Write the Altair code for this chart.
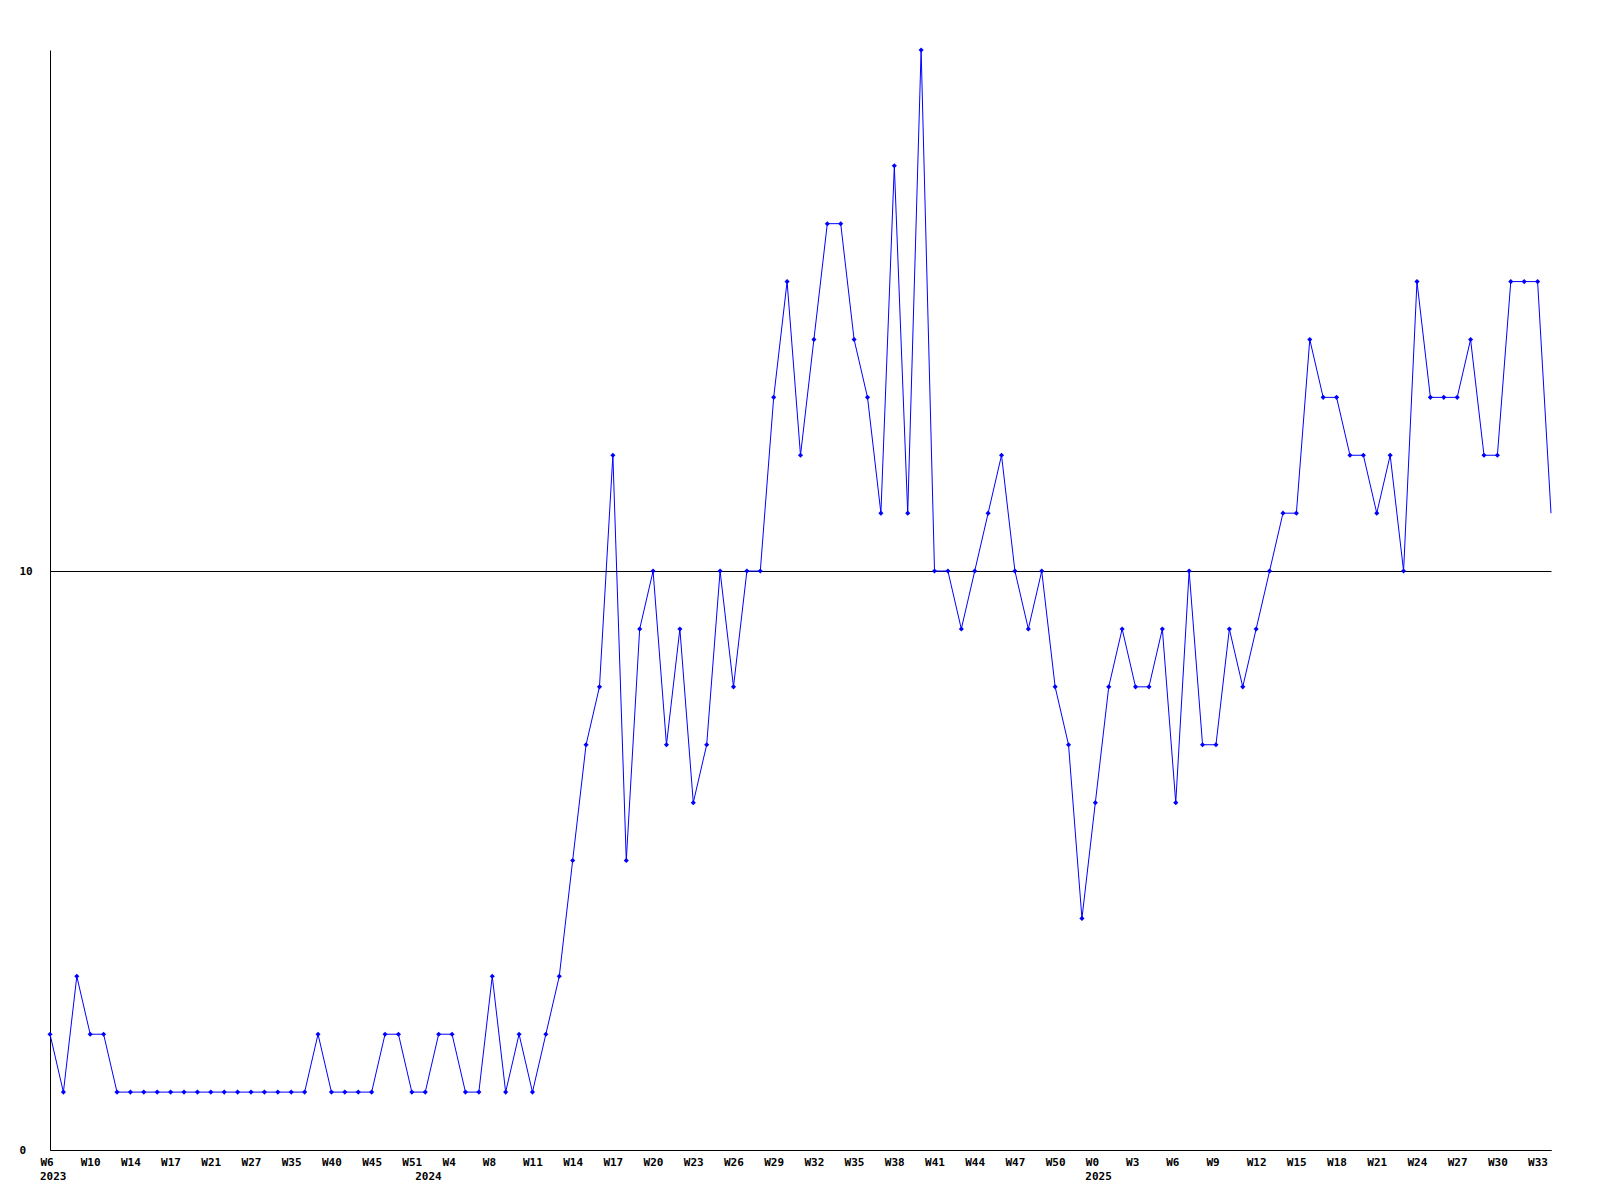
import altair as alt
import pandas as pd

values = [2, 1, 3, 2, 2, 1, 1, 1, 1, 1, 1, 1, 1, 1, 1, 1, 1, 1, 1, 1,
          2, 1, 1, 1, 1, 2, 2, 1, 1, 2, 2, 1, 1, 3, 1, 2, 1, 2, 3, 5,
          7, 8, 12, 5, 9, 10, 7, 9, 6, 7, 10, 8, 10, 10, 13, 15, 12, 14, 16, 16,
          14, 13, 11, 17, 11, 19, 10, 10, 9, 10, 11, 12, 10, 9, 10, 8, 7, 4, 6, 8,
          9, 8, 8, 9, 6, 10, 7, 7, 9, 8, 9, 10, 11, 11, 14, 13, 13, 12, 12, 11,
          12, 10, 15, 13, 13, 13, 14, 12, 12, 15, 15, 15, 11]

week_labels = ["W6", "W10", "W14", "W17", "W21", "W27", "W35", "W40", "W45", "W51",
               "W4", "W8", "W11", "W14", "W17", "W20", "W23", "W26", "W29", "W32",
               "W35", "W38", "W41", "W44", "W47", "W50", "W0", "W3", "W6", "W9",
               "W12", "W15", "W18", "W21", "W24", "W27", "W30", "W33"]

year_labels = ["2023", "2024", "2025"]
year_positions = [0, 28, 78]

y_ticks = [0, 10]

df = pd.DataFrame({"i": list(range(len(values))), "v": values})
years = pd.DataFrame({"i": year_positions, "year": year_labels})

label_array = "[" + ",".join('"%s"' % w for w in week_labels) + "]"
tick_vals = list(range(0, 3 * len(week_labels), 3))
last_i = len(values) - 1

FONT = "DejaVu Sans Mono"
W, H = 1501, 1100

x_enc = alt.X("i:Q", scale=alt.Scale(domain=[0, last_i], nice=False, zero=False),
              axis=alt.Axis(values=tick_vals, labelExpr=label_array + "[round(datum.value/3)]",
                            ticks=False, tickSize=0, grid=False, domainColor="black",
                            labelAlign="left", labelOffset=-10, labelBaseline="top",
                            labelPadding=6, labelFont=FONT, labelFontWeight="bold",
                            labelFontSize=11, labelColor="black", title=None,
                            labelOverlap=False, labelFlush=False))
y_enc = alt.Y("v:Q", scale=alt.Scale(domain=[0, 19], nice=False),
              axis=alt.Axis(values=y_ticks, format="d", ticks=False, tickSize=0, grid=True,
                            gridColor="black", gridOpacity=1, gridWidth=1,
                            domainColor="black", labelAlign="left", labelPadding=31,
                            labelFont=FONT, labelFontWeight="bold", labelFontSize=11,
                            labelColor="black", title=None, labelFlush=False))

line = alt.Chart(df).mark_line(color="#0000ff", strokeWidth=1).encode(x=x_enc, y=y_enc)
pts = alt.Chart(df).transform_filter(f"datum.i < {last_i}").mark_point(
    shape="diamond", filled=True, color="#0000ff", size=26, opacity=1
).encode(x="i:Q", y="v:Q")
yr = alt.Chart(years).mark_text(align="left", baseline="top", dx=-10, font=FONT,
                                fontWeight="bold", fontSize=11, color="black").encode(
    x="i:Q", y=alt.value(H + 21), text="year:N")

chart = alt.layer(line, pts, yr).properties(
    width=W, height=H, autosize=alt.AutoSizeParams(type="none"),
    padding={"left": 42, "top": 42, "right": 40, "bottom": 60},
    background="white"
).configure_view(strokeWidth=0, stroke="transparent")

chart.save("out.html", embed_options={"renderer": "svg", "actions": False})
